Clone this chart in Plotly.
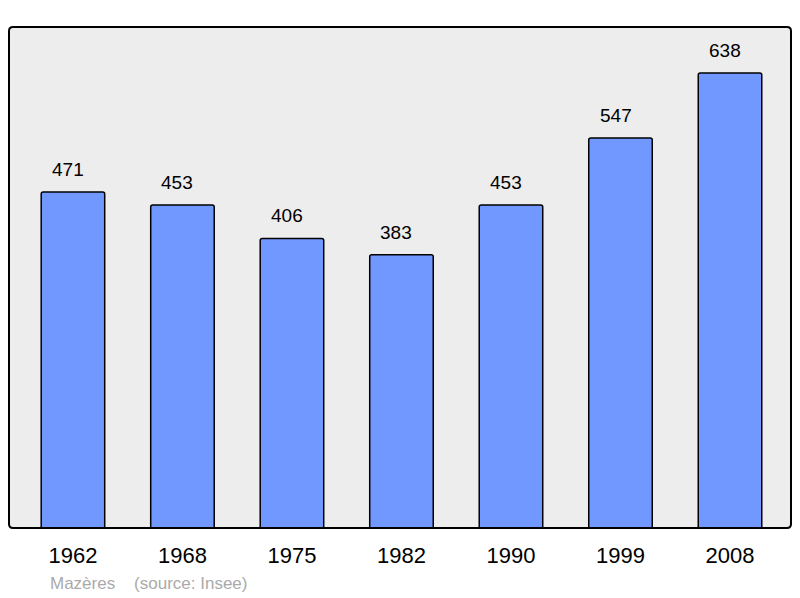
import plotly.graph_objects as go

years = ["1962", "1968", "1975", "1982", "1990", "1999", "2008"]
population = [471, 453, 406, 383, 453, 547, 638]
footer = "Mazères\u00a0\u00a0\u00a0\u00a0(source: Insee)"

xs = list(range(len(years)))

fig = go.Figure()
fig.add_trace(go.Bar(
    x=xs, y=population, width=0.58,
    marker=dict(color="#7098ff", line=dict(color="#000000", width=1.5), cornerradius=2),
    hoverinfo="skip",
))

for x, v in zip(xs, population):
    fig.add_annotation(x=x, y=v, text=str(v), showarrow=False, yanchor="bottom",
                       yshift=10, xshift=-5,
                       font=dict(size=19, color="#000000", family="Liberation Sans, Arial, sans-serif"))

W, H = 782, 501
rx, ry = 4 / W, 4 / H
path = (f"M {rx} 0 L {1-rx} 0 Q 1 0 1 {ry} L 1 {1-ry} Q 1 1 {1-rx} 1 "
        f"L {rx} 1 Q 0 1 0 {1-ry} L 0 {ry} Q 0 0 {rx} 0 Z")
fig.add_shape(type="path", xref="paper", yref="paper", path=path,
              line=dict(color="#000000", width=2), layer="above")

fig.add_annotation(xref="paper", yref="paper", x=(48 - 9) / W, y=(528 - 583) / H,
                   xanchor="left", yanchor="middle", text=footer, showarrow=False,
                   font=dict(size=17, color="#aaaaaa", family="Liberation Sans, Arial, sans-serif"))

fig.update_layout(
    width=792, height=590,
    margin=dict(l=1, r=9, t=19, b=70),
    paper_bgcolor="#ffffff", plot_bgcolor="#ededed",
    showlegend=False,
    font=dict(family="Liberation Sans, Arial, sans-serif", color="#000000"),
    xaxis=dict(range=[-0.584, 6.557], tickvals=xs, ticktext=years, showgrid=False,
               zeroline=False, showline=False, ticks="", tickfont=dict(size=22, color="#000000"),
               ticklabelstandoff=12, fixedrange=True),
    yaxis=dict(range=[0, 702.5], showgrid=False, zeroline=False, showticklabels=False,
               showline=False, ticks="", fixedrange=True),
)

fig.write_html("out.html")
